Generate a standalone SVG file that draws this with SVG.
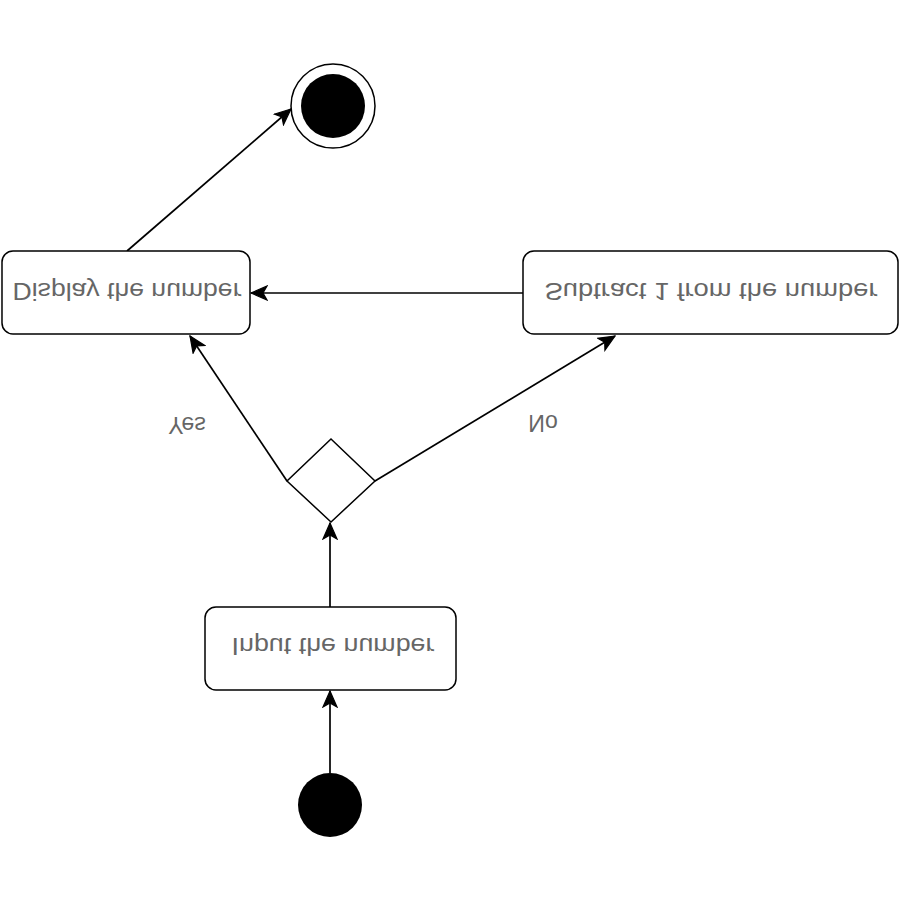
<svg xmlns="http://www.w3.org/2000/svg" width="900" height="900" viewBox="0 0 900 900">
<style>
.box{fill:#fff;stroke:#000;stroke-width:1.5}
.edge{fill:none;stroke:#000;stroke-width:1.7}
.lbl{font-family:"Liberation Sans",Arial,sans-serif;font-size:23px;fill:#666;text-anchor:middle}
</style>
<defs>
<marker id="arr" markerUnits="userSpaceOnUse" markerWidth="18" markerHeight="16" viewBox="0 0 18 16" refX="17" refY="8" orient="auto">
<path d="M17,8 L1,1 L5,8 L1,15 Z" fill="#000" stroke="#000" stroke-width="1.2" stroke-linejoin="miter"/>
</marker>
</defs>
<g id="connectors">
<line class="edge" x1="330" y1="773" x2="330" y2="691" marker-end="url(#arr)"/>
<line class="edge" x1="330" y1="607" x2="330" y2="523" marker-end="url(#arr)"/>
<line class="edge" x1="287" y1="481" x2="190" y2="336" marker-end="url(#arr)"/>
<line class="edge" x1="375" y1="481" x2="615" y2="336" marker-end="url(#arr)"/>
<line class="edge" x1="523" y1="293" x2="251" y2="293" marker-end="url(#arr)"/>
<line class="edge" x1="127" y1="251" x2="291" y2="109" marker-end="url(#arr)"/>
<text class="lbl" transform="translate(187,417) scale(1,-1)">Yes</text>
<text class="lbl" transform="translate(543,415) scale(1,-1)">No</text>
</g>
<g id="start">
<circle cx="330" cy="805" r="32" fill="#000"/>
</g>
<g id="input">
<rect class="box" x="205" y="607" width="251" height="83" rx="11"/>
<text class="lbl" transform="translate(333,638) scale(1,-1)" textLength="203" lengthAdjust="spacingAndGlyphs">Input the number</text>
</g>
<g id="decision">
<polygon class="box" points="331,439 375,481 331,522 287,481"/>
</g>
<g id="display">
<rect class="box" x="2" y="251" width="248" height="83" rx="11"/>
<text class="lbl" transform="translate(127,283) scale(1,-1)" textLength="229" lengthAdjust="spacingAndGlyphs">Display the number</text>
</g>
<g id="subtract">
<rect class="box" x="523" y="251" width="375" height="83" rx="11"/>
<text class="lbl" transform="translate(711,283) scale(1,-1)" textLength="333" lengthAdjust="spacingAndGlyphs">Subtract 1 from the number</text>
</g>
<g id="end">
<circle cx="333" cy="106" r="42" fill="#fff" stroke="#000" stroke-width="1.5"/>
<circle cx="333" cy="106" r="32" fill="#000"/>
</g>
</svg>
